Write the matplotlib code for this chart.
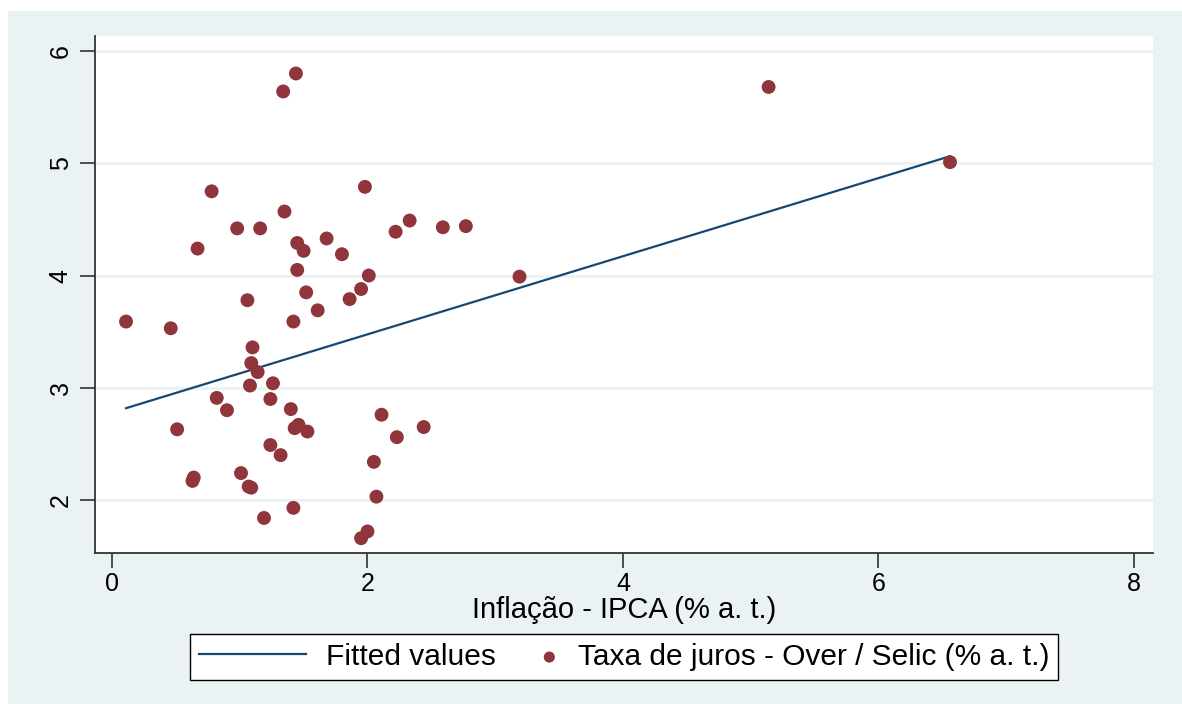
import numpy as np
import matplotlib
matplotlib.use("Agg")
import matplotlib.pyplot as plt
from matplotlib.patches import Rectangle
from matplotlib.legend_handler import HandlerPathCollection

plt.rcParams['font.family'] = ['Liberation Sans', 'DejaVu Sans']

# inflation (x) and interest rate (y)
ipca = [1.44, 1.34, 5.14, 6.56, 0.78, 1.98, 1.35, 0.98, 1.16, 2.33, 2.22, 2.59,
        2.77, 0.67, 1.45, 1.50, 1.68, 1.80, 1.45, 2.01, 3.19, 1.52, 1.95, 1.86,
        1.06, 1.61, 1.42, 0.11, 0.46, 1.10, 1.09, 1.14, 1.26, 1.08, 0.82, 1.24,
        0.90, 1.40, 2.11, 0.51, 1.46, 1.43, 1.53, 2.44, 2.23, 1.24, 1.32, 2.05,
        1.01, 0.64, 0.63, 1.09, 1.07, 2.07, 1.42, 1.19, 2.00, 1.95]
selic = [5.80, 5.64, 5.68, 5.01, 4.75, 4.79, 4.57, 4.42, 4.42, 4.49, 4.39, 4.43,
         4.44, 4.24, 4.29, 4.22, 4.33, 4.19, 4.05, 4.00, 3.99, 3.85, 3.88, 3.79,
         3.78, 3.69, 3.59, 3.59, 3.53, 3.36, 3.22, 3.14, 3.04, 3.02, 2.91, 2.90,
         2.80, 2.81, 2.76, 2.63, 2.67, 2.64, 2.61, 2.65, 2.56, 2.49, 2.40, 2.34,
         2.24, 2.20, 2.17, 2.11, 2.12, 2.03, 1.93, 1.84, 1.72, 1.66]

# fitted line
fit_intercept = 2.78
fit_slope = 0.348

x_ticks = [0, 2, 4, 6, 8]
y_ticks = [2, 3, 4, 5, 6]

BG = "#EAF2F3"
LINE_C = "#1A476F"
DOT_C = "#90353B"


# stata puts the legend dot at the right end of the key area
class RightDot(HandlerPathCollection):
    def get_xdata(self, legend, xdescent, ydescent, width, height, fontsize):
        x = [-xdescent + width - 0.3 * fontsize]
        return x, x


fig = plt.figure(figsize=(11.82, 7.04), dpi=100)
fig.patch.set_facecolor("white")
fig.patches.append(Rectangle((8 / 1182, 0), 1 - 8 / 1182, 1 - 11 / 704,
                             transform=fig.transFigure, facecolor=BG,
                             edgecolor="none", zorder=-10))

ax = fig.add_axes([95 / 1182, 1 - 553 / 704, (1153 - 95) / 1182, (553 - 36) / 704])
ax.set_facecolor("white")

xs = np.array([min(ipca), max(ipca)])
ax.plot(xs, fit_intercept + fit_slope * xs, color=LINE_C, lw=1.6,
        label="Fitted values", zorder=3)
dots = ax.scatter(ipca, selic, s=100, color=DOT_C, edgecolors="none",
                  label="Taxa de juros - Over / Selic (% a. t.)", zorder=4)

ax.set_xlim(-0.133, 8.149)
ax.set_ylim(1.528, 6.134)
ax.set_xticks(x_ticks)
ax.set_yticks(y_ticks)
ax.tick_params(axis="both", length=11, width=1.2, color="#333333",
               labelsize=18, pad=3)
ax.tick_params(axis="y", labelrotation=90, pad=5)
for lab in ax.get_yticklabels():
    lab.set_va("center")

ax.grid(axis="y", color=BG, lw=2)
ax.set_axisbelow(True)
for s in ["top", "right"]:
    ax.spines[s].set_visible(False)
for s in ["left", "bottom"]:
    ax.spines[s].set_color("#333333")
    ax.spines[s].set_linewidth(1.3)

ax.set_xlabel("Inflação - IPCA (% a. t.)", fontsize=21, labelpad=0)

leg = ax.legend(loc="center", bbox_to_anchor=(0.5, -0.201), ncol=2,
                fontsize=21.5, frameon=True, fancybox=False, framealpha=1,
                handlelength=3.6, handletextpad=0.65, columnspacing=-1.5,
                borderpad=0.3, borderaxespad=0, markerscale=0.8,
                handler_map={dots: RightDot()})
leg.get_frame().set_edgecolor("black")
leg.get_frame().set_facecolor("white")
leg.get_frame().set_linewidth(1.0)

fig.savefig("out.png", dpi=100)
